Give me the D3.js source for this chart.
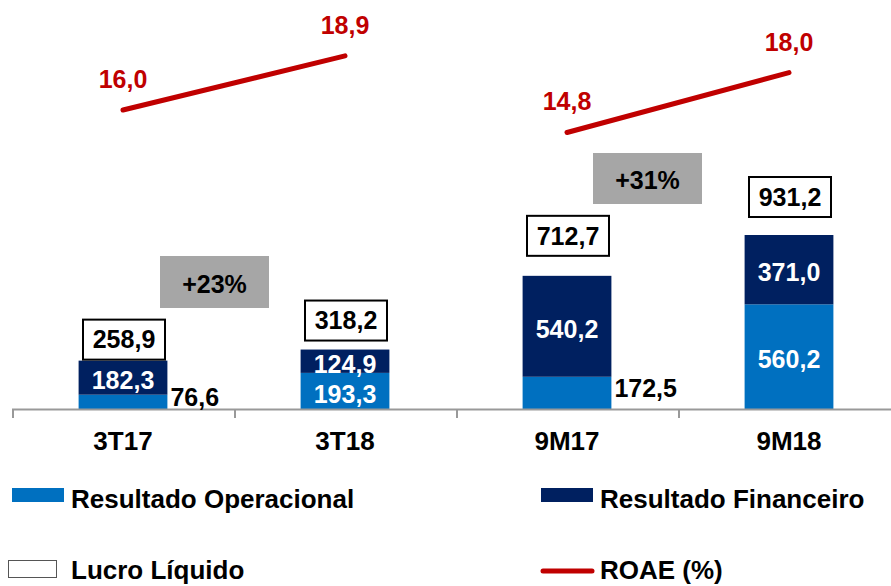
<!DOCTYPE html>
<html>
<head>
<meta charset="utf-8">
<script src="https://cdn.jsdelivr.net/npm/d3@7"></script>
<style>
  html, body { margin: 0; padding: 0; background: #fff; }
  svg { display: block; font-family: "Liberation Sans", Arial, sans-serif; font-weight: bold; }
</style>
</head>
<body>
<svg id="chart" width="891" height="586"></svg>
<script>
// ---- data ----
const categories = ["3T17", "3T18", "9M17", "9M18"];
const periodGroup = ["3T", "3T", "9M", "9M"];
const resultadoOperacional = [76.6, 193.3, 172.5, 560.2];
const resultadoFinanceiro = [182.3, 124.9, 540.2, 371.0];
const lucroLiquido = [258.9, 318.2, 712.7, 931.2];
const roae = [16.0, 18.9, 14.8, 18.0];
const growthLabels = ["+23%", "+31%"];
const legendLabels = ["Resultado Operacional", "Resultado Financeiro", "Lucro Líquido", "ROAE (%)"];

const fmt = v => d3.format(".1f")(v).replace(".", ",");

// ---- layout ----
const baseY = 409, topY = 35.3;
const colOp = "#0070C0", colFin = "#002060", colRoae = "#C00000", colGrowth = "#A6A6A6";

const svg = d3.select("#chart");

const x = d3.scaleBand().domain(categories).range([12, 900]).paddingInner(0).paddingOuter(0);
const barW = x.bandwidth() * 0.4;
const cx = c => x(c) + x.bandwidth() / 2;
const y = d3.scaleLinear().domain([0, 2000]).range([baseY, topY]);
const y2 = d3.scaleLinear().domain([0, 20]).range([baseY, topY]);

const rows = categories.map((c, i) => ({
  cat: c, op: resultadoOperacional[i], fin: resultadoFinanceiro[i],
  total: lucroLiquido[i], roae: roae[i], group: periodGroup[i]
}));

// stacked bars
const stack = d3.stack().keys(["op", "fin"]);
const series = stack(rows);
const colors = { op: colOp, fin: colFin };

series.forEach(s => {
  svg.append("g").selectAll("rect").data(s).join("rect")
    .attr("x", d => cx(d.data.cat) - barW / 2)
    .attr("width", barW)
    .attr("y", d => y(d[1]))
    .attr("height", d => y(d[0]) - y(d[1]))
    .attr("fill", colors[s.key]);
});

// axis
const axisG = svg.append("g").attr("transform", `translate(0,${baseY})`);
axisG.append("line").attr("x1", 12).attr("x2", 891).attr("y1", 0.5).attr("y2", 0.5)
  .attr("stroke", "#999").attr("stroke-width", 2);
axisG.selectAll("line.tick").data(categories).join("line").attr("class", "tick")
  .attr("x1", d => x(d) + 1).attr("x2", d => x(d) + 1)
  .attr("y1", 0).attr("y2", 9).attr("stroke", "#999").attr("stroke-width", 2);
axisG.selectAll("text").data(categories).join("text")
  .attr("x", d => cx(d)).attr("y", 41)
  .attr("text-anchor", "middle").attr("font-size", 26).attr("fill", "#000")
  .text(d => d);

// segment labels (small operating results are labelled beside the bar)
const insideThreshold = 180;
series.forEach(s => {
  s.forEach(d => {
    const v = d[1] - d[0];
    const c = d.data.cat;
    const mid = (y(d[0]) + y(d[1])) / 2;
    if (s.key === "op" && v < insideThreshold) {
      svg.append("text")
        .attr("x", cx(c) + barW / 2 + 3).attr("y", mid - 5).attr("dy", "0.35em")
        .attr("font-size", 25).attr("fill", "#000").text(fmt(v));
    } else {
      svg.append("text")
        .attr("x", cx(c)).attr("y", mid + 3).attr("dy", "0.35em")
        .attr("text-anchor", "middle").attr("font-size", 25).attr("fill", "#fff").text(fmt(v));
    }
  });
});

// total (Lucro Líquido) boxes
const totalLift = [1, 9, 20, 18];
const boxW = 82, boxH = 40;
rows.forEach((r, i) => {
  const top = y(r.total);
  const bc = top - totalLift[i] - boxH / 2;
  const g = svg.append("g");
  g.append("rect").attr("x", cx(r.cat) - boxW / 2 + 1).attr("y", bc - boxH / 2)
    .attr("width", boxW).attr("height", boxH)
    .attr("fill", "#fff").attr("stroke", "#000").attr("stroke-width", 2);
  g.append("text").attr("x", cx(r.cat) + 1).attr("y", bc).attr("dy", "0.35em")
    .attr("text-anchor", "middle").attr("font-size", 25).attr("fill", "#000")
    .text(fmt(r.total));
});

// growth annotations
const growthBoxes = [
  { x: 160, y: 256, w: 109, h: 52 },
  { x: 593, y: 153, w: 109, h: 51 }
];
growthLabels.forEach((t, i) => {
  const b = growthBoxes[i];
  svg.append("rect").attr("x", b.x).attr("y", b.y).attr("width", b.w).attr("height", b.h).attr("fill", colGrowth);
  svg.append("text").attr("x", b.x + b.w / 2).attr("y", b.y + b.h / 2 + 2).attr("dy", "0.35em")
    .attr("text-anchor", "middle").attr("font-size", 25).attr("fill", "#000").text(t);
});

// ROAE lines
const line = d3.line().x(d => cx(d.cat)).y(d => y2(d.roae));
d3.group(rows, d => d.group).forEach(g => {
  svg.append("path").attr("d", line(g)).attr("fill", "none")
    .attr("stroke", colRoae).attr("stroke-width", 5).attr("stroke-linecap", "round");
});
svg.append("g").selectAll("text").data(rows).join("text")
  .attr("x", d => cx(d.cat)).attr("y", d => y2(d.roae) - 22)
  .attr("text-anchor", "middle").attr("font-size", 25).attr("fill", colRoae)
  .text(d => fmt(d.roae));

// legend
const lg = svg.append("g").attr("font-size", 26).attr("fill", "#000");
lg.append("rect").attr("x", 12).attr("y", 488).attr("width", 52).attr("height", 14).attr("fill", colOp);
lg.append("text").attr("x", 71).attr("y", 508).text(legendLabels[0]);
lg.append("rect").attr("x", 541).attr("y", 488).attr("width", 52).attr("height", 14).attr("fill", colFin);
lg.append("text").attr("x", 600).attr("y", 508).text(legendLabels[1]);
lg.append("rect").attr("x", 8.5).attr("y", 560.5).attr("width", 48).attr("height", 17)
  .attr("fill", "#fff").attr("stroke", "#555").attr("stroke-width", 1);
lg.append("text").attr("x", 71).attr("y", 579).text(legendLabels[2]);
lg.append("line").attr("x1", 543).attr("x2", 592).attr("y1", 571).attr("y2", 571)
  .attr("stroke", colRoae).attr("stroke-width", 5).attr("stroke-linecap", "round");
lg.append("text").attr("x", 600).attr("y", 579).text(legendLabels[3]);
</script>
</body>
</html>
